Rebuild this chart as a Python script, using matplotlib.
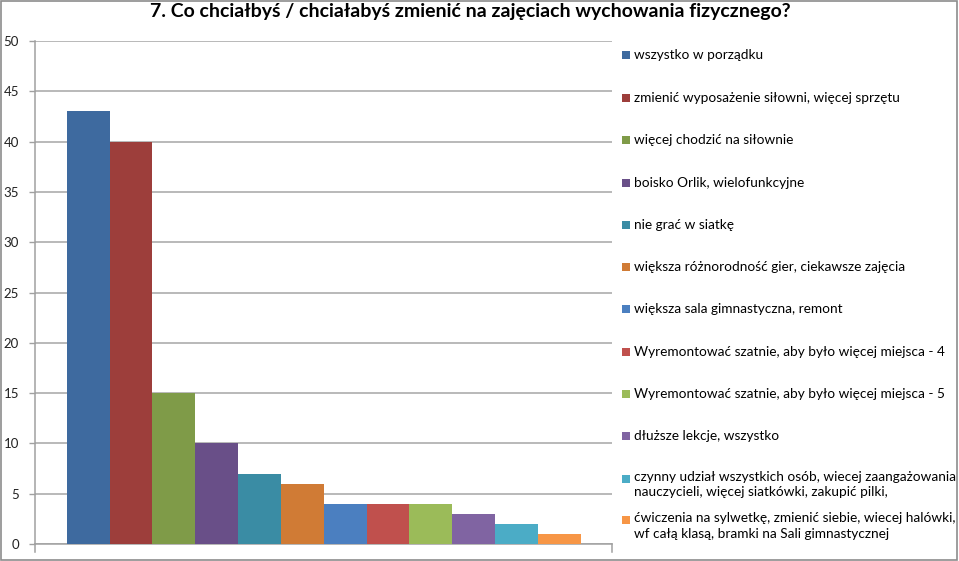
import matplotlib
matplotlib.use("Agg")
import matplotlib.pyplot as plt
from matplotlib.patches import Rectangle

W, H = 959, 561

title = "7. Co chciałbyś / chciałabyś zmienić na zajęciach wychowania fizycznego?"
categories = [
    "wszystko w porządku",
    "zmienić wyposażenie siłowni, więcej sprzętu",
    "więcej chodzić na siłownie",
    "boisko Orlik, wielofunkcyjne",
    "nie grać w siatkę",
    "większa różnorodność gier, ciekawsze zajęcia",
    "większa sala gimnastyczna, remont",
    "Wyremontować szatnie, aby było więcej miejsca - 4",
    "Wyremontować szatnie, aby było więcej miejsca - 5",
    "dłuższe lekcje, wszystko",
    "czynny udział wszystkich osób, wiecej zaangażowania\nnauczycieli, więcej siatkówki, zakupić pilki,",
    "ćwiczenia na sylwetkę, zmienić siebie, wiecej halówki,\nwf całą klasą, bramki na Sali gimnastycznej",
]
values = [43, 40, 15, 10, 7, 6, 4, 4, 4, 3, 2, 1]
colors = ["#3E6A9F", "#9D3E3B", "#7F9B48", "#694F88", "#3A8CA4", "#D07B35",
          "#4B7FC0", "#C0504D", "#9BBB59", "#8064A2", "#4BACC6", "#F79646"]
yticks = [0, 5, 10, 15, 20, 25, 30, 35, 40, 45, 50]

plt.rcParams['font.family'] = ['Lato', 'DejaVu Sans']

fig = plt.figure(figsize=(W / 100, H / 100), dpi=100)

def fx(px):
    return px / W

def fy(py):
    return 1 - py / H

left, right, top, bottom = 35, 612, 41, 544
ax = fig.add_axes([fx(left), fy(bottom), fx(right) - fx(left), fy(top) - fy(bottom)])

for i, (v, c) in enumerate(zip(values, colors)):
    ax.bar(i, v, width=1.0, color=c, edgecolor='none', zorder=3)

ax.set_xlim(-1.24, 12.23)
ax.set_ylim(0, 50)
ax.set_yticks(yticks)
ax.set_yticklabels([str(t) for t in yticks], fontsize=9.5, color='#222222')
ax.set_xticks([])
ax.tick_params(axis='y', length=4.5, width=1, color='#A0A0A0', pad=7)
ax.grid(axis='y', color='#A6A6A6', linewidth=1.1, zorder=0)
ax.set_axisbelow(True)
for s in ['top', 'right']:
    ax.spines[s].set_visible(False)
ax.spines['left'].set_color('#A0A0A0')
ax.spines['bottom'].set_color('#A0A0A0')
ax.spines['left'].set_linewidth(1.1)
ax.spines['bottom'].set_linewidth(1.1)
# category boundary ticks on x axis
for xb in [-1.24, 12.23]:
    ax.plot([xb, xb], [0, -0.8], color='#A0A0A0', lw=1.1, clip_on=False, zorder=2)

# Title
fig.text(fx(470), fy(12), title, ha='center', va='center', fontsize=14,
         fontweight='bold', color='#000000')

# Legend (manual, Excel-like spacing)
leg_y = [55, 98, 140, 183, 225, 267, 309, 352, 394, 436, 479, 520]
for y, lab, c in zip(leg_y, categories, colors):
    fig.patches.append(Rectangle((fx(622), fy(y + 4)), fx(8), 8 / H,
                                 transform=fig.transFigure, facecolor=c,
                                 edgecolor='none'))
    if '\n' in lab:
        fig.text(fx(634), fy(y - 8), lab, ha='left', va='top', fontsize=9.8,
                 color='#000000', linespacing=1.35)
    else:
        fig.text(fx(634), fy(y), lab, ha='left', va='center', fontsize=9.8,
                 color='#000000')

# Outer border
fig.patches.append(Rectangle((0.001, 0.002), 0.997, 0.996, transform=fig.transFigure,
                             facecolor='none', edgecolor='#8C8C8C', linewidth=1.2))

fig.savefig("out.png", dpi=100)
